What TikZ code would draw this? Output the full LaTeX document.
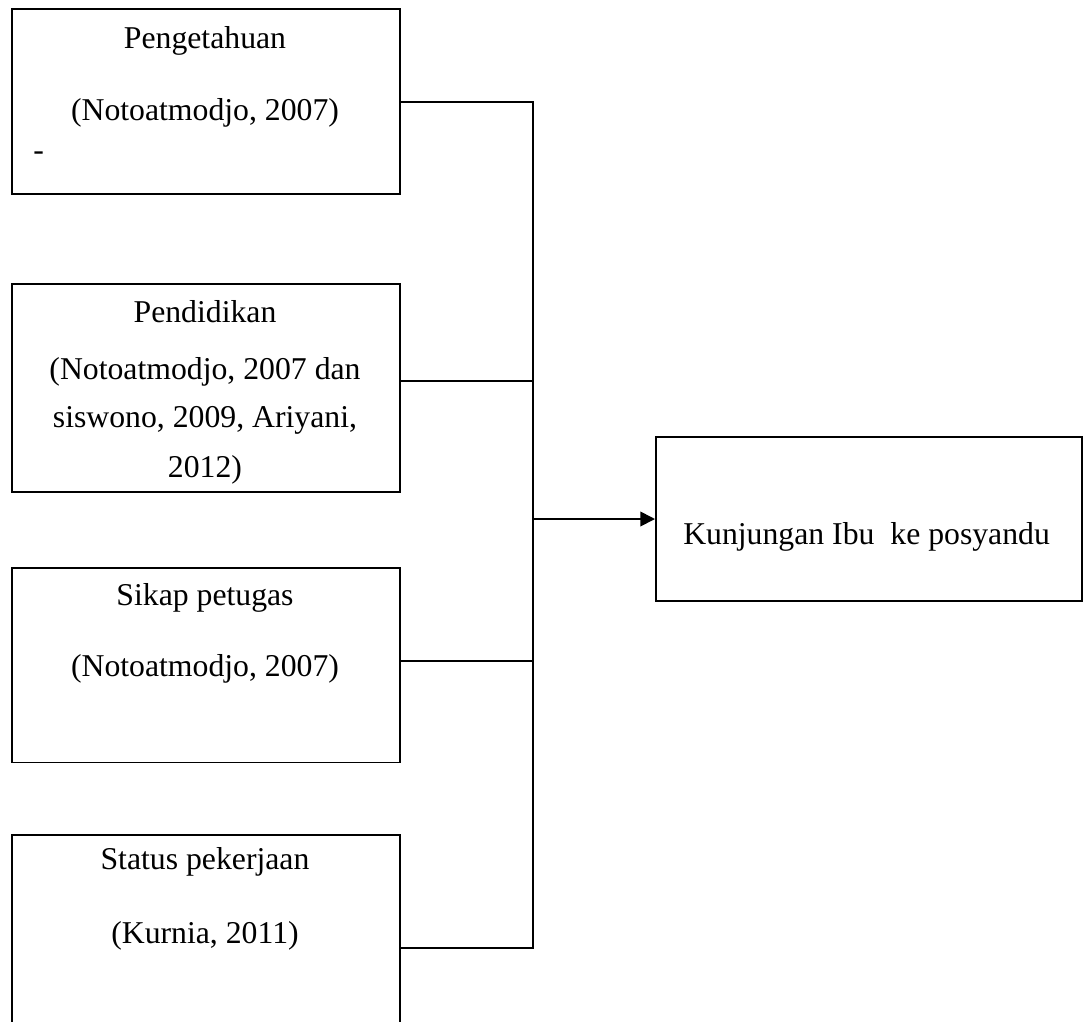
\documentclass[tikz,border=0pt]{standalone}
\usepackage{fontspec}
\setmainfont{Liberation Serif}
\usetikzlibrary{arrows.meta,positioning}

\tikzset{
  box/.style={draw,line width=1.3pt,anchor=north west,minimum width=291pt,inner sep=0pt},
  lbl/.style={font=\fontsize{23.8pt}{28pt}\selectfont,inner sep=0pt,anchor=base},
  wire/.style={line width=1.3pt},
  arrow/.style={line width=1.3pt,-{Triangle[length=11pt,width=11pt]}}
}

\begin{document}
\begin{tikzpicture}[x=0.75pt,y=-0.75pt]
       \useasboundingbox (0,0) rectangle (1083,1022);
       % Draw the four factor boxes
       \node[box,minimum height=138.75pt] (b1) at (11,8) {};
       \node[box,minimum height=156pt] (b2) at (11,283) {};
       \node[box,minimum height=146pt] (b3) at (11,567) {};
       \node[box,minimum height=170pt] (b4) at (11,834) {};
       % Draw the outcome box
       \node[box,minimum width=319.5pt,minimum height=123pt] (out) at (655,436) {};
       % Texts of the boxes
       \node[lbl] (t1a) at (205,48) {Pengetahuan};
       \node[lbl] (t1b) at (205,120) {(Notoatmodjo, 2007)};
       \node[lbl,anchor=base west] (t1c) at (33,160) {-};
       \node[lbl] (t2a) at (205,322) {Pendidikan};
       \node[lbl] (t2b) at (205,379) {(Notoatmodjo, 2007 dan};
       \node[lbl] (t2c) at (205,427) {siswono, 2009, Ariyani,};
       \node[lbl] (t2d) at (205,477) {2012)};
       \node[lbl] (t3a) at (205,605) {Sikap petugas};
       \node[lbl] (t3b) at (205,676) {(Notoatmodjo, 2007)};
       \node[lbl] (t4a) at (205,869) {Status pekerjaan};
       \node[lbl] (t4b) at (205,943) {(Kurnia, 2011)};
       \node[lbl,anchor=base west] (tout) at (683,544) {Kunjungan Ibu\ \ ke posyandu};
       % Draw the bus and the connectors
       \coordinate (j1) at (533,102);
       \coordinate (j2) at (533,381);
       \coordinate (j3) at (533,661);
       \coordinate (j4) at (533,948);
       \coordinate (jm) at (533,519);
       \draw[wire] (j1 -| b1.east) -- (j1) -- (j4) -- (j4 -| b4.east);
       \draw[wire] (j2 -| b2.east) -- (j2);
       \draw[wire] (j3 -| b3.east) -- (j3);
       \draw[arrow] (jm) -- (jm -| out.west);
\end{tikzpicture}
\end{document}
